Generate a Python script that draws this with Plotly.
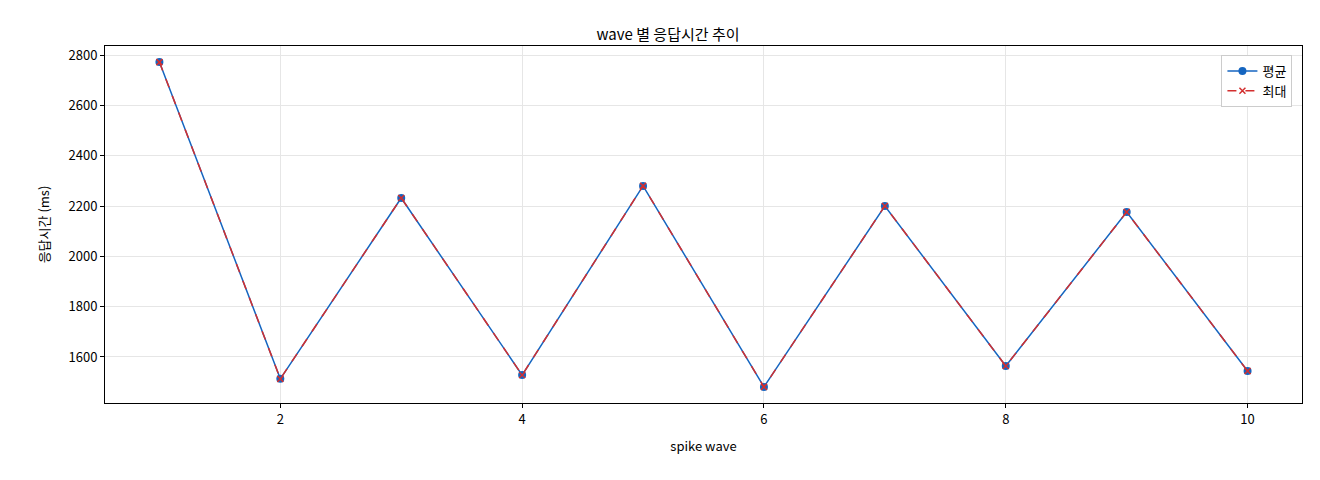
import plotly.graph_objects as go

waves = [1, 2, 3, 4, 5, 6, 7, 8, 9, 10]
avg_ms = [2772, 1513, 2232, 1528, 2280, 1481, 2200, 1564, 2176, 1544]
max_ms = [2772, 1513, 2232, 1528, 2280, 1481, 2200, 1564, 2176, 1544]

font = "Noto Sans CJK KR"

fig = go.Figure()
fig.add_trace(go.Scatter(x=waves, y=avg_ms, name="평균", mode="lines+markers",
                         line=dict(color="#1565c0", width=1.5),
                         marker=dict(symbol="circle", size=8, color="#1565c0")))
fig.add_trace(go.Scatter(x=waves, y=max_ms, name="최대", mode="lines+markers",
                         line=dict(color="#d32f2f", width=1.5, dash="dash"),
                         marker=dict(symbol="x-thin", size=6,
                                     line=dict(color="#d32f2f", width=1.5))))

axis = dict(showline=True, mirror=True, linecolor="black", linewidth=1,
            gridcolor="#e6e6e6", ticks="outside", ticklen=4, tickcolor="black",
            zeroline=False, tickfont=dict(size=13, color="black"))
fig.update_xaxes(axis, range=[0.55, 10.45], tickvals=[2, 4, 6, 8, 10],
                 title=dict(text="spike wave", font=dict(size=13)))
fig.update_yaxes(axis, range=[1417, 2836], dtick=200,
                 title=dict(text="응답시간 (ms)", font=dict(size=13)))

fig.update_layout(
    width=1320, height=480,
    margin=dict(l=97, r=26, t=38, b=85),
    plot_bgcolor="white", paper_bgcolor="white",
    font=dict(family=font, color="black"),
    title=dict(text="wave 별 응답시간 추이", x=0.5, y=0.955, xanchor="center",
               font=dict(size=15)),
    legend=dict(x=0.992, y=0.975, xanchor="right", yanchor="top",
                bordercolor="#cccccc", borderwidth=1, font=dict(size=13)),
)

fig.write_html("out.html")
